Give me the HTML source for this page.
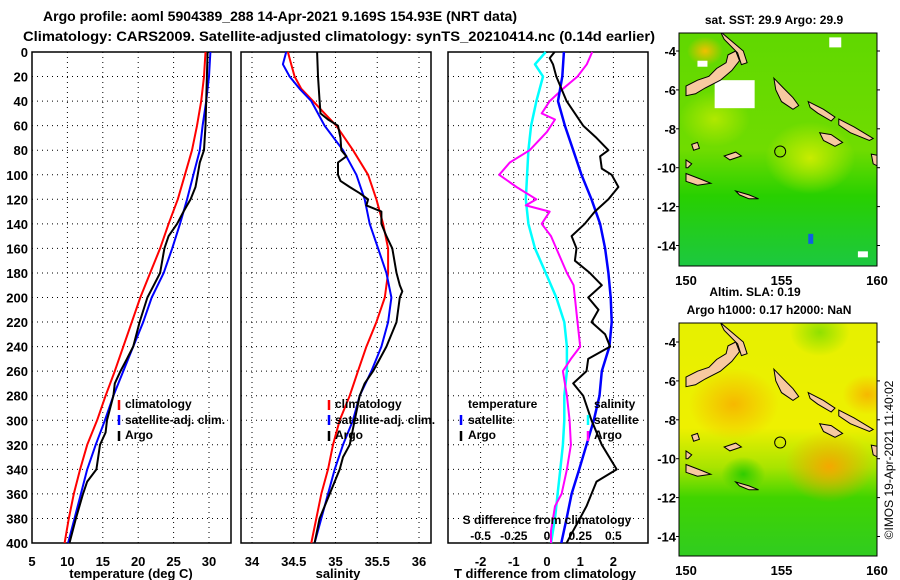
<!DOCTYPE html>
<html><head><meta charset="utf-8"><title>Argo profile</title>
<style>
html,body{margin:0;padding:0;background:#fff;}
svg{display:block;font-family:"Liberation Sans",sans-serif;font-weight:bold;}
</style></head>
<body>
<svg id="chart" width="900" height="580" viewBox="0 0 900 580" xmlns="http://www.w3.org/2000/svg">
<text x="280" y="21" font-size="14" text-anchor="middle" textLength="474" lengthAdjust="spacingAndGlyphs">Argo profile: aoml 5904389_288 14-Apr-2021 9.169S 154.93E (NRT data)</text>
<text x="339" y="41" font-size="14" text-anchor="middle" textLength="632" lengthAdjust="spacingAndGlyphs">Climatology: CARS2009. Satellite-adjusted climatology: synTS_20210414.nc (0.14d earlier)</text>
<g id="plots"></g>
<g id="maps"></g>
<text transform="translate(893,460) rotate(-90)" font-size="12" font-weight="normal" text-anchor="middle">©IMOS 19-Apr-2021 11:40:02</text>
</svg>
<script>
// ---------- data ----------
const depthGrid = [0,20,40,60,80,100,120,140,160,180,200,220,240,260,280,300,320,340,360,380,400];
const tempClim = [29.5,29.3,28.9,28.3,27.6,26.6,25.6,24.3,23.1,21.7,20.3,19.1,17.9,16.7,15.4,14.2,12.8,11.8,10.9,10.2,9.6];
const tempSat  = [30.2,30.0,29.6,29.1,28.7,27.8,26.9,25.9,24.8,23.6,21.9,20.7,19.3,17.9,16.5,15.3,14.0,12.8,11.9,11.0,10.1];
const argoTDepth = [0,20,40,60,80,90,100,110,120,130,140,150,160,180,190,200,220,240,250,260,270,280,300,310,320,340,350,360,380,400];
const argoTemp   = [29.8,29.7,29.6,29.5,29.3,28.7,28.4,28.1,27.4,26.4,25.5,24.3,23.7,23.1,22.2,21.3,20.2,19.3,18.4,17.5,16.7,16.5,15.6,15.4,14.6,14.1,12.8,12.2,11.2,10.3];

const salDepthA = [0,10,20,30,40,50,60,80,100,120,140,160,180,200,220,240,260,280,300,320,340,360,380,400];
const salClim   = [34.43,34.47,34.51,34.59,34.73,34.87,35.01,35.21,35.39,35.49,35.57,35.63,35.63,35.59,35.49,35.37,35.27,35.17,35.05,34.97,34.91,34.83,34.77,34.71];
const salDepthB = [0,10,20,30,40,60,80,100,120,140,160,180,200,220,240,260,280,300,320,340,360,380,400];
const salSat    = [34.41,34.37,34.45,34.57,34.71,34.87,35.09,35.25,35.35,35.41,35.51,35.61,35.67,35.63,35.55,35.43,35.29,35.21,35.09,34.99,34.91,34.83,34.75];
const argoSDepth = [0,20,40,50,55,60,70,80,85,90,100,105,110,115,120,125,130,140,150,160,180,190,195,200,220,240,250,260,270,280,300,320,330,340,360,380,400];
const argoSal    = [34.78,34.79,34.81,34.82,34.91,35.03,35.06,35.07,35.13,35.03,35.03,35.06,35.17,35.29,35.39,35.37,35.55,35.55,35.61,35.68,35.73,35.77,35.80,35.77,35.73,35.61,35.53,35.45,35.35,35.29,35.23,35.17,35.09,35.05,34.93,34.81,34.75];

const dTSat = [0.51,0.46,0.33,0.54,0.79,1.04,1.34,1.60,1.75,1.85,1.92,1.95,1.88,1.65,1.58,1.41,1.19,0.97,0.74,0.59,0.43];
const dTArgoDepth = [0,5,10,20,40,60,70,80,85,95,100,110,120,130,140,150,160,170,180,190,200,210,220,230,240,250,260,270,280,300,320,340,350,360,370,380,390,400];
const dTArgo = [0.23,0.08,0.18,0.28,0.59,1.09,1.49,1.85,1.60,1.65,1.95,2.15,1.85,1.44,1.14,0.74,0.89,0.84,1.29,1.65,1.24,1.55,1.34,1.75,1.90,1.24,1.19,0.79,1.09,1.34,1.65,2.10,1.49,1.34,1.19,0.99,0.79,0.59];
const dSSatDepth = [0,10,20,40,60,80,100,120,140,160,180,200,220,240,260,280,300,320,340,360,380,400];
const dSSat = [-0.01,-0.09,-0.03,-0.08,-0.12,-0.14,-0.15,-0.16,-0.14,-0.09,-0.01,0.07,0.13,0.15,0.15,0.13,0.13,0.12,0.10,0.08,0.06,0.03];
const dSArgoDepth = [0,10,20,30,40,50,55,65,80,90,100,110,120,125,130,140,150,160,180,190,200,220,240,250,260,280,300,320,340,360,370,390,400];
const dSArgo = [0.34,0.30,0.23,0.12,0.02,-0.04,0.06,0.00,-0.13,-0.28,-0.36,-0.23,-0.08,-0.16,0.02,-0.04,0.03,0.07,0.15,0.20,0.21,0.23,0.25,0.18,0.12,0.15,0.17,0.18,0.15,0.11,0.06,0.03,0.03];

const depthTicks = [0,20,40,60,80,100,120,140,160,180,200,220,240,260,280,300,320,340,360,380,400];
const tempTicks = [5,10,15,20,25,30];
const salTicks = [34,34.5,35,35.5,36];
const salTickLabels = ["34","34.5","35","35.5","36"];
const dTTicks = [-2,-1,0,1,2];
const dSTicks = [-0.5,-0.25,0,0.25,0.5];
const dSTickLabels = ["-0.5","-0.25","0","0.25","0.5"];
const mapLonTicks = [150,155,160];
const mapLatTicks = [-4,-6,-8,-10,-12,-14];

// ---------- helpers ----------
const NS = "http://www.w3.org/2000/svg";
const plots = document.getElementById('plots');
const maps = document.getElementById('maps');
function mk(tag, attrs, parent){ const e=document.createElementNS(NS,tag); for(const k in attrs) e.setAttribute(k,attrs[k]); (parent||plots).appendChild(e); return e; }
const Y0=52, Y1=543;
function yD(d){ return Y0 + d*(Y1-Y0)/400; }
function xT(t){ return 32 + (t-5)*7.08; }
function xS(s){ return 252 + (s-34)*83.5; }
function xDT(t){ return 547 + t*33.2; }
function xDS(s){ return 547 + s*132.8; }

function frame(x0,x1,name){
  const r = mk('rect',{x:x0,y:Y0,width:x1-x0,height:Y1-Y0,fill:'none',stroke:'#000','stroke-width':1.5});
  
  
}
function hgrid(x0,x1){
  depthTicks.forEach(d=>{ if(d>0&&d<400){ const l=mk('line',{x1:x0,x2:x1,y1:yD(d),y2:yD(d),stroke:'#000','stroke-width':1,'stroke-dasharray':'1,4'});
    
     }});
}
function vgrid(xs){ xs.forEach(x=>{ const l=mk('line',{x1:x,x2:x,y1:Y0,y2:Y1,stroke:'#000','stroke-width':1,'stroke-dasharray':'1,4'});
  
   }); }
function line(ds,vs,fx,color,name,w){
  const pts = ds.map((d,i)=>fx(vs[i]).toFixed(1)+','+yD(d).toFixed(1)).join(' ');
  const p = mk('polyline',{points:pts,fill:'none',stroke:color,'stroke-width':w||2,'stroke-linejoin':'round'});
  
  
}
function txt(x,y,s,size,anchor,name,parent){
  const t = mk('text',{x:x,y:y,'font-size':size,'text-anchor':anchor||'start'},parent);
  t.textContent = s;
  
  
  return t;
}
function legendMark(x,y,color){
  const l = mk('line',{x1:x,x2:x,y1:y-10,y2:y,stroke:color,'stroke-width':2.5});
  
  
}

// ---------- panel 1: temperature ----------
hgrid(32,231);
vgrid(tempTicks.slice(1).map(xT));
frame(32,231,'temperature-panel');
line(depthGrid,tempClim,xT,'#ff0000','temp-climatology-line');
line(depthGrid,tempSat,xT,'#0000ff','temp-satellite-line');
line(argoTDepth,argoTemp,xT,'#000000','temp-argo-line');
depthTicks.forEach(d=>txt(28,yD(d)+5,String(d),13,'end','depth-tick-label'));
tempTicks.forEach(t=>txt(xT(t),566,String(t),13,'middle','temp-tick-label'));
txt(131,578,'temperature (deg C)',13,'middle','temp-axis-title');
legendMark(119,410,'#ff0000'); txt(125,408,'climatology',12,'start','legend-climatology');
legendMark(119,425,'#0000ff'); txt(125,424,'satellite-adj. clim.',12,'start','legend-satellite');
legendMark(119,441,'#000000'); txt(125,439,'Argo',12,'start','legend-argo');

// ---------- panel 2: salinity ----------
hgrid(241,431);
vgrid(salTicks.map(xS));
frame(241,431,'salinity-panel');
line(salDepthA,salClim,xS,'#ff0000','sal-climatology-line');
line(salDepthB,salSat,xS,'#0000ff','sal-satellite-line');
line(argoSDepth,argoSal,xS,'#000000','sal-argo-line');
salTicks.forEach((s,i)=>txt(xS(s),566,salTickLabels[i],13,'middle','sal-tick-label'));
txt(338,578,'salinity',13,'middle','sal-axis-title');
legendMark(329,410,'#ff0000'); txt(335,408,'climatology',12,'start','legend-climatology');
legendMark(329,425,'#0000ff'); txt(335,424,'satellite-adj. clim.',12,'start','legend-satellite');
legendMark(329,441,'#000000'); txt(335,439,'Argo',12,'start','legend-argo');

// ---------- panel 3: differences ----------
hgrid(448,648);
vgrid(dTTicks.map(xDT));
frame(448,648,'difference-panel');
line(dSSatDepth,dSSat,xDS,'#00ffff','dS-satellite-line',2.5);
line(dSArgoDepth,dSArgo,xDS,'#ff00ff','dS-argo-line',2);
line(depthGrid,dTSat,xDT,'#0000ff','dT-satellite-line',2.5);
line(dTArgoDepth,dTArgo,xDT,'#000000','dT-argo-line',2);
dTTicks.forEach(t=>txt(xDT(t),566,String(t),13,'middle','dT-tick-label'));
txt(545,578,'T difference from climatology',13,'middle','dT-axis-title');
txt(547,524,'S difference from climatology',12,'middle','dS-axis-title');
dSTicks.forEach((s,i)=>txt(xDS(s),540,dSTickLabels[i],12,'middle','dS-tick-label'));
txt(468,408,'temperature',12,'start','legend-temperature-heading');
legendMark(461,425,'#0000ff'); txt(468,424,'satellite',12,'start','legend-temp-satellite');
legendMark(461,441,'#000000'); txt(468,439,'Argo',12,'start','legend-temp-argo');
txt(594,408,'salinity',12,'start','legend-salinity-heading');
legendMark(588,425,'#00ffff'); txt(594,424,'satellite',12,'start','legend-sal-satellite');
legendMark(588,441,'#ff00ff'); txt(594,439,'Argo',12,'start','legend-sal-argo');

// ---------- maps ----------
const islands = [
  [[150,-6.3],[150,-5.8],[150.6,-5.5],[151.2,-5.3],[151.6,-4.9],[152.1,-4.6],[152.2,-4.2],[152.6,-4.0],[152.8,-4.5],[152.4,-5.0],[151.8,-5.5],[151.0,-5.9],[150.5,-6.2]],
  [[151.8,-3.0],[152.4,-3.5],[153.0,-4.0],[153.2,-4.6],[152.9,-4.7],[152.7,-4.1],[152.0,-3.4]],
  [[154.6,-5.4],[155.1,-5.9],[155.6,-6.4],[155.9,-6.8],[155.6,-7.0],[155.0,-6.6],[154.7,-6.0]],
  [[156.4,-6.6],[157.2,-7.0],[157.8,-7.4],[157.6,-7.6],[156.9,-7.2],[156.5,-6.9]],
  [[158.0,-7.5],[158.8,-7.9],[159.8,-8.5],[159.6,-8.6],[158.6,-8.2],[158.0,-7.8]],
  [[157.0,-8.2],[157.6,-8.3],[158.2,-8.7],[157.8,-8.9],[157.2,-8.6]],
  [[159.7,-9.3],[160.2,-9.4],[160.2,-10.0],[159.8,-9.8]],
  [[150,-9.6],[150.3,-9.8],[150.1,-10.0],[150,-10.0]],
  [[150,-10.3],[150.8,-10.6],[151.3,-10.8],[150.6,-10.9],[150,-10.7]],
  [[152.6,-11.2],[153.3,-11.4],[153.8,-11.6],[153.3,-11.6],[152.8,-11.4]],
  [[152.0,-9.4],[152.6,-9.2],[152.9,-9.4],[152.3,-9.6]],
  [[150.3,-8.8],[150.6,-8.7],[150.7,-9.0],[150.4,-9.1]]
];
function drawMap(top,lat0y,name,bgDefs){
  const x0=679,x1=877,bottom=top+233;
  const lx=l=>686+(l-150)*19.1;
  const ly=l=>lat0y+(-4-l)*19.45;
  const g = mk('g',{},maps);
  
  
  const clipId = name+'-clip';
  const cp = mk('clipPath',{id:clipId},g);
  mk('rect',{x:x0,y:top,width:x1-x0,height:bottom-top},cp);
  const inner = mk('g',{'clip-path':'url(#'+clipId+')'},g);
  bgDefs(inner,x0,top,x1,bottom,lx,ly);
  islands.forEach(poly=>{
    const p = mk('polygon',{points:poly.map(q=>lx(q[0]).toFixed(1)+','+ly(q[1]).toFixed(1)).join(' '),fill:'#f7c9a0',stroke:'#000','stroke-width':1},inner);
    
    
  });
  const c = mk('circle',{cx:lx(154.93),cy:ly(-9.169),r:5.5,fill:'none',stroke:'#000','stroke-width':1},g);
  
  
  mk('rect',{x:x0,y:top,width:x1-x0,height:bottom-top,fill:'none',stroke:'#000','stroke-width':1},g);
  mapLatTicks.forEach(l=>{ mk('line',{x1:x0-3,x2:x0,y1:ly(l),y2:ly(l),stroke:'#000'},g); mk('line',{x1:x1,x2:x1+3,y1:ly(l),y2:ly(l),stroke:'#000'},g);
    txt(676,ly(l)+5,String(l),13,'end','map-lat-label',g); });
  mapLonTicks.forEach(l=>txt(lx(l),bottom+19,String(l),13,'middle','map-lon-label',g));
}
let gid=0;
function grad(parent,cx,cy,r,color){
  const id='rg'+(gid++);
  const defs = mk('defs',{},parent);
  const rg = mk('radialGradient',{id:id},defs);
  mk('stop',{offset:'0','stop-color':color,'stop-opacity':'1'},rg);
  mk('stop',{offset:'1','stop-color':color,'stop-opacity':'0'},rg);
  mk('ellipse',{cx:cx,cy:cy,rx:r,ry:r*0.8,fill:'url(#'+id+')'},parent);
}
drawMap(33,51,'sst-map',(g,x0,y0,x1,y1,lx,ly)=>{
  const defs = mk('defs',{},g);
  const lg = mk('linearGradient',{id:'sstbg',x1:0,y1:0,x2:0,y2:1},defs);
  mk('stop',{offset:'0','stop-color':'#60d800'},lg);
  mk('stop',{offset:'0.5','stop-color':'#70dc00'},lg);
  mk('stop',{offset:'0.7','stop-color':'#28d000'},lg);
  mk('stop',{offset:'1','stop-color':'#1cc840'},lg);
  mk('rect',{x:x0,y:y0,width:x1-x0,height:y1-y0,fill:'url(#sstbg)'},g);
  grad(g,lx(156.5),ly(-9.5),45,'#c8ec00');
  grad(g,lx(151.5),ly(-7.5),35,'#b0e800');
  grad(g,lx(151),ly(-4),18,'#f0c000');
  mk('rect',{x:lx(151.5),y:ly(-5.5),width:40,height:28,fill:'#fff'},g);
  mk('rect',{x:lx(157.5),y:ly(-3.3),width:12,height:10,fill:'#fff'},g);
  mk('rect',{x:lx(150.6),y:ly(-4.5),width:10,height:6,fill:'#fff'},g);
  mk('rect',{x:lx(159),y:ly(-14.3),width:10,height:6,fill:'#fff'},g);
  mk('rect',{x:lx(156.4),y:ly(-13.4),width:5,height:10,fill:'#1060e0'},g);
});
drawMap(323,342,'sla-map',(g,x0,y0,x1,y1,lx,ly)=>{
  const defs = mk('defs',{},g);
  const lg = mk('linearGradient',{id:'slabg',x1:0,y1:0,x2:0,y2:1},defs);
  mk('stop',{offset:'0','stop-color':'#e6f000'},lg);
  mk('stop',{offset:'0.45','stop-color':'#eef000'},lg);
  mk('stop',{offset:'0.62','stop-color':'#a8e400'},lg);
  mk('stop',{offset:'0.75','stop-color':'#40d400'},lg);
  mk('stop',{offset:'1','stop-color':'#30cc20'},lg);
  mk('rect',{x:x0,y:y0,width:x1-x0,height:y1-y0,fill:'url(#slabg)'},g);
  grad(g,lx(152.5),ly(-7.2),45,'#f6b800');
  grad(g,lx(157.5),ly(-10.4),45,'#f4a800');
  grad(g,lx(159.5),ly(-6.7),25,'#f6b800');
  grad(g,lx(157),ly(-3.5),30,'#90e000');
  grad(g,lx(153),ly(-10.8),22,'#30cc00');
});
txt(774,24,'sat. SST: 29.9 Argo: 29.9',12,'middle','sst-map-title');
txt(755,296,'Altim. SLA: 0.19',12,'middle','sla-value');
txt(769,314,'Argo h1000: 0.17 h2000: NaN',12,'middle','sla-map-title');
</script>
</body></html>
